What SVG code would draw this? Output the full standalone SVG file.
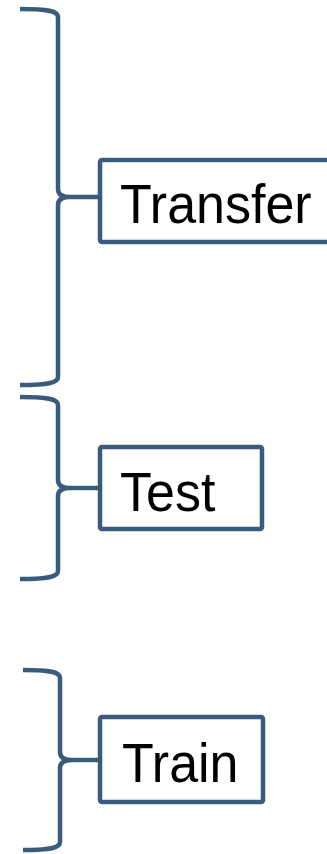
<svg xmlns="http://www.w3.org/2000/svg" width="327" height="854" viewBox="0 0 327 854">
<style>
.br{fill:none;stroke:#3b5b7d;stroke-width:4.5;stroke-linecap:butt;stroke-linejoin:round}
.box{fill:#ffffff;stroke:#3b5b7d;stroke-width:4.5}
.lbl{font-family:"Liberation Sans",Arial,sans-serif;font-size:52px;fill:#000000}
</style>
<rect width="327" height="854" fill="#ffffff"/>
<g id="connectors">
<path class="br" d="M20,9 C48,9 58,11 58,17 L58,189 C58,194 61,197 70,197 C61,197 58,200 58,205 L58,377 C58,383 48,385 20,385 M70,197 H100"/>
<path class="br" d="M20,397 C48,397 58,399 58,405 L58,480 C58,485 61,488 70,488 C61,488 58,491 58,496 L58,571 C58,577 48,579 20,579 M70,488 H100"/>
<path class="br" d="M23,670 C51,670 60,672 60,678 L60,752 C60,757 63,760 72,760 C63,760 60,763 60,768 L60,842 C60,848 51,850 23,850 M72,760 H100"/>
</g>
<g id="transfer">
<rect class="box" x="100" y="160" width="240" height="82" rx="2"/>
<text class="lbl" transform="translate(120,223) scale(1,1.08)">Transfer</text>
</g>
<g id="test">
<rect class="box" x="100" y="447" width="162" height="82" rx="2"/>
<text class="lbl" transform="translate(120,511) scale(1,1.08)">Test</text>
</g>
<g id="train">
<rect class="box" x="100" y="717" width="163" height="85" rx="2"/>
<text class="lbl" transform="translate(122,782) scale(1,1.08)">Train</text>
</g>
</svg>
